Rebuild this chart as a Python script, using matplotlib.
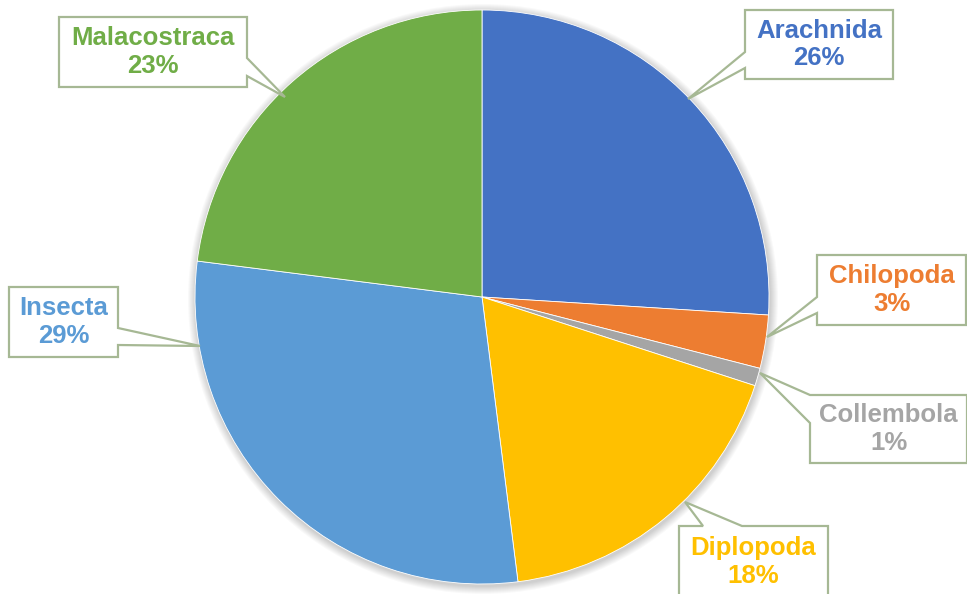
import matplotlib.pyplot as plt
from matplotlib.patches import Circle, Polygon

plt.rcParams['font.family'] = ['Liberation Sans', 'DejaVu Sans']

classes = ['Arachnida', 'Chilopoda', 'Collembola', 'Diplopoda', 'Insecta', 'Malacostraca']
shares = [26, 3, 1, 18, 29, 23]
colors = ['#4472C4', '#ED7D31', '#A5A5A5', '#FFC000', '#5B9BD5', '#70AD47']

# callout boxes in pixel space: (x0, y0, x1, y1), side the pointer leaves from,
# pointer base span along that side, pointer tip
callouts = [
    ((745, 10, 893, 79), 'left', (52, 68), (688, 99)),
    ((817, 255, 966, 325), 'left', (297, 313), (767, 337)),
    ((810, 395, 967, 463), 'left', (395, 423), (760, 373)),
    ((679, 526, 828, 610), 'top', (703, 742), (685, 502)),
    ((9, 287, 118, 357), 'right', (328, 345), (200, 346)),
    ((59, 17, 247, 87), 'right', (58, 76), (285, 97)),
]

cx, cy, r = 482, 297, 287

fig = plt.figure(figsize=(9.67, 5.94), dpi=100)
ax = fig.add_axes([0, 0, 1, 1])
ax.set_xlim(0, 967)
ax.set_ylim(594, 0)  # y grows downward, so the wedges go counterclockwise in data terms
ax.set_aspect('equal')
ax.axis('off')

# soft glow around the pie
for i in range(8):
    ax.add_patch(Circle((cx + 1, cy + 2), r + 1 + i, facecolor='#000000',
                        alpha=0.025, edgecolor='none', zorder=0))

ax.pie(shares, colors=colors, startangle=-90, counterclock=True,
       center=(cx, cy), radius=r, frame=True,
       wedgeprops=dict(edgecolor='white', linewidth=0.6))
ax.set_xlim(0, 967)
ax.set_ylim(594, 0)
ax.axis('off')


def callout_outline(box, side, base, tip):
    x0, y0, x1, y1 = box
    a, b = base
    if side == 'left':
        return [(x0, y0), (x1, y0), (x1, y1), (x0, y1), (x0, b), tip, (x0, a)]
    if side == 'right':
        return [(x0, y0), (x1, y0), (x1, a), tip, (x1, b), (x1, y1), (x0, y1)]
    return [(x0, y0), (a, y0), tip, (b, y0), (x1, y0), (x1, y1), (x0, y1)]


for name, share, col, (box, side, base, tip) in zip(classes, shares, colors, callouts):
    ax.add_patch(Polygon(callout_outline(box, side, base, tip), closed=True,
                         facecolor='white', edgecolor='#A6B894', linewidth=1.6,
                         joinstyle='miter', zorder=3))
    x0, y0, x1, y1 = box
    ty = (y0 + min(y1, 594 + 20)) / 2 if side != 'top' else y0 + 36
    ax.text((x0 + x1) / 2, ty, f'{name}\n{share}%', color=col,
            fontsize=18.5, fontweight='bold', ha='center', va='center',
            linespacing=1.2, zorder=4)

fig.savefig('out.png', dpi=100)
